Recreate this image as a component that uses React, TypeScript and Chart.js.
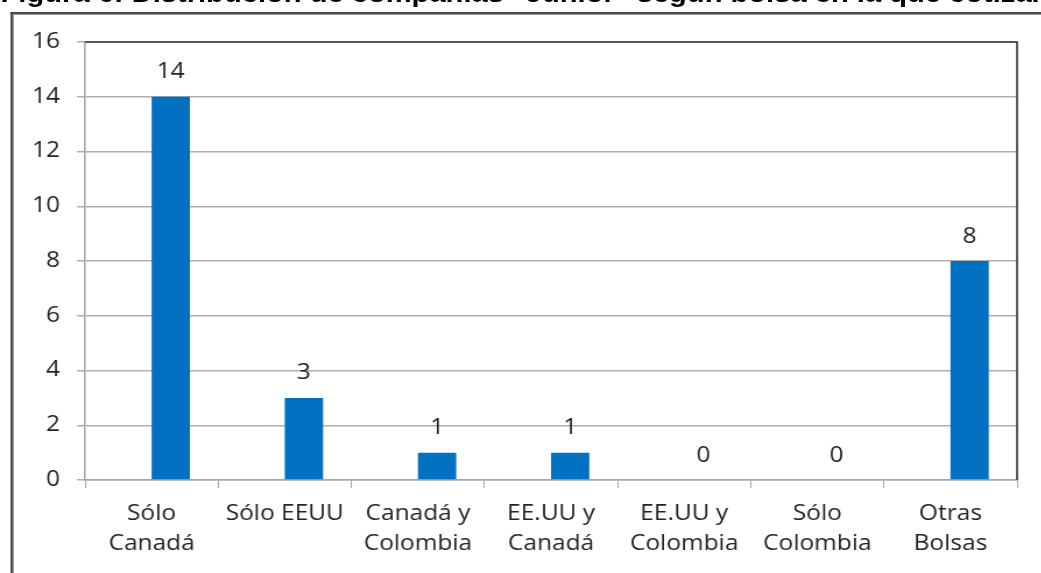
import React, { useEffect, useRef } from "react";
import { Chart, registerables } from "chart.js";

Chart.register(...registerables);

// ---- data ----
const TITLE = 'Figura 6: Distribución de compañías "Junior" según bolsa en la que cotizan';
const categories: string[][] = [
  ["Sólo", "Canadá"],
  ["Sólo EEUU"],
  ["Canadá y", "Colombia"],
  ["EE.UU y", "Canadá"],
  ["EE.UU y", "Colombia"],
  ["Sólo", "Colombia"],
  ["Otras", "Bolsas"],
];
const emptySeries: (number | null)[] = [null, null, null, null, null, null, null];
const values: number[] = [14, 3, 1, 1, 0, 0, 8];
const yMin = 0;
const yMax = 16;
const yStep = 2;

// ---- layout ----
const STRETCH = 1.165;
const W = 894;
const H = 573;
const FONT = '"Open Sans", "Noto Sans", sans-serif';

const valueLabels = {
  id: "valueLabels",
  afterDatasetsDraw(chart: any) {
    const ctx = chart.ctx;
    const meta = chart.getDatasetMeta(1);
    ctx.save();
    ctx.font = `21px ${FONT}`;
    ctx.fillStyle = "#222222";
    ctx.textAlign = "center";
    ctx.textBaseline = "alphabetic";
    meta.data.forEach((el: any, i: number) => {
      ctx.fillText(String(values[i]), el.x, el.y - 18.5);
    });
    ctx.restore();
  },
};

const plotBorder = {
  id: "plotBorder",
  afterDraw(chart: any) {
    const { ctx, chartArea } = chart;
    ctx.save();
    ctx.strokeStyle = "#333333";
    ctx.lineWidth = 1.6;
    ctx.beginPath();
    ctx.moveTo(chartArea.left, chartArea.top);
    ctx.lineTo(chartArea.right, chartArea.top);
    ctx.lineTo(chartArea.right, chartArea.bottom);
    ctx.stroke();
    ctx.restore();
  },
};

export default function App() {
  const canvasRef = useRef<HTMLCanvasElement | null>(null);

  useEffect(() => {
    let chart: Chart | null = null;
    let cancelled = false;
    const make = () => {
      if (cancelled || !canvasRef.current) return;
      chart = new Chart(canvasRef.current, {
        type: "bar",
        data: {
          labels: categories,
          datasets: [
            {
              label: "",
              data: emptySeries,
              backgroundColor: "#0070C0",
            },
            {
              label: "Compañías",
              data: values,
              backgroundColor: "#0070C0",
              borderWidth: 0,
            },
          ],
        },
        options: {
          responsive: false,
          animation: false,
          maintainAspectRatio: false,
          datasets: { bar: { categoryPercentage: 0.575, barPercentage: 1 } },
          layout: { padding: { left: 0, top: 42, right: W - 873, bottom: 0 } },
          plugins: {
            legend: { display: false },
            tooltip: { enabled: false },
            title: { display: false },
          },
          scales: {
            x: {
              grid: {
                display: true,
                drawOnChartArea: false,
                drawTicks: true,
                tickLength: 8,
                color: "#a6a6a6",
                offset: true,
              },
              border: { display: true, color: "#a6a6a6", width: 1.5 },
              ticks: {
                autoSkip: false,
                maxRotation: 0,
                minRotation: 0,
                padding: 11,
                color: "#222222",
                font: { family: FONT, size: 21, lineHeight: 30 / 21 },
              },
              afterFit(scale: any) {
                scale.height = H - 480;
              },
            },
            y: {
              min: yMin,
              max: yMax,
              ticks: {
                stepSize: yStep,
                padding: 14.5,
                color: "#222222",
                font: { family: FONT, size: 21 },
              },
              grid: {
                color: "#b0b0b0",
                lineWidth: 1.5,
                tickLength: 7,
              },
              border: { display: true, color: "#a6a6a6", width: 1.5 },
              afterFit(scale: any) {
                scale.width = 73;
              },
            },
          },
        },
        plugins: [valueLabels, plotBorder],
      });
    };
    const fontsReady = (document as any).fonts
      ? Promise.all([
          (document as any).fonts.load(`21px "Open Sans"`),
          (document as any).fonts.load(`bold 25px "Liberation Sans"`),
        ]).catch(() => null)
      : Promise.resolve(null);
    fontsReady.then(make);
    return () => {
      cancelled = true;
      if (chart) chart.destroy();
    };
  }, []);

  return (
    <div
      style={{
        position: "fixed",
        left: 0,
        top: 0,
        width: "100vw",
        height: "100vh",
        overflow: "hidden",
        background: "#ffffff",
      }}
    >
      <div
        style={{
          position: "absolute",
          left: 0,
          top: 0,
          width: W,
          height: H,
          transform: `scaleX(${STRETCH})`,
          transformOrigin: "0 0",
        }}
      >
        <div
          style={{
            position: "absolute",
            left: 0.5,
            top: -19.5,
            whiteSpace: "nowrap",
            fontFamily: '"Liberation Sans", Arial, sans-serif',
            fontWeight: "bold",
            fontSize: 25,
            lineHeight: "25px",
            color: "#000000",
          }}
        >
          {TITLE}
        </div>
        <div
          style={{
            position: "absolute",
            left: 8.6,
            top: 12,
            width: 2000,
            height: 2000,
            borderLeft: "2px solid #4a4a4a",
            borderTop: "2px solid #4a4a4a",
            boxShadow: "inset 1px 1px 0 #9a9a9a",
          }}
        />
        <canvas
          ref={canvasRef}
          width={W}
          height={H}
          style={{ position: "absolute", left: 0, top: 0, display: "block" }}
        />
      </div>
    </div>
  );
}
